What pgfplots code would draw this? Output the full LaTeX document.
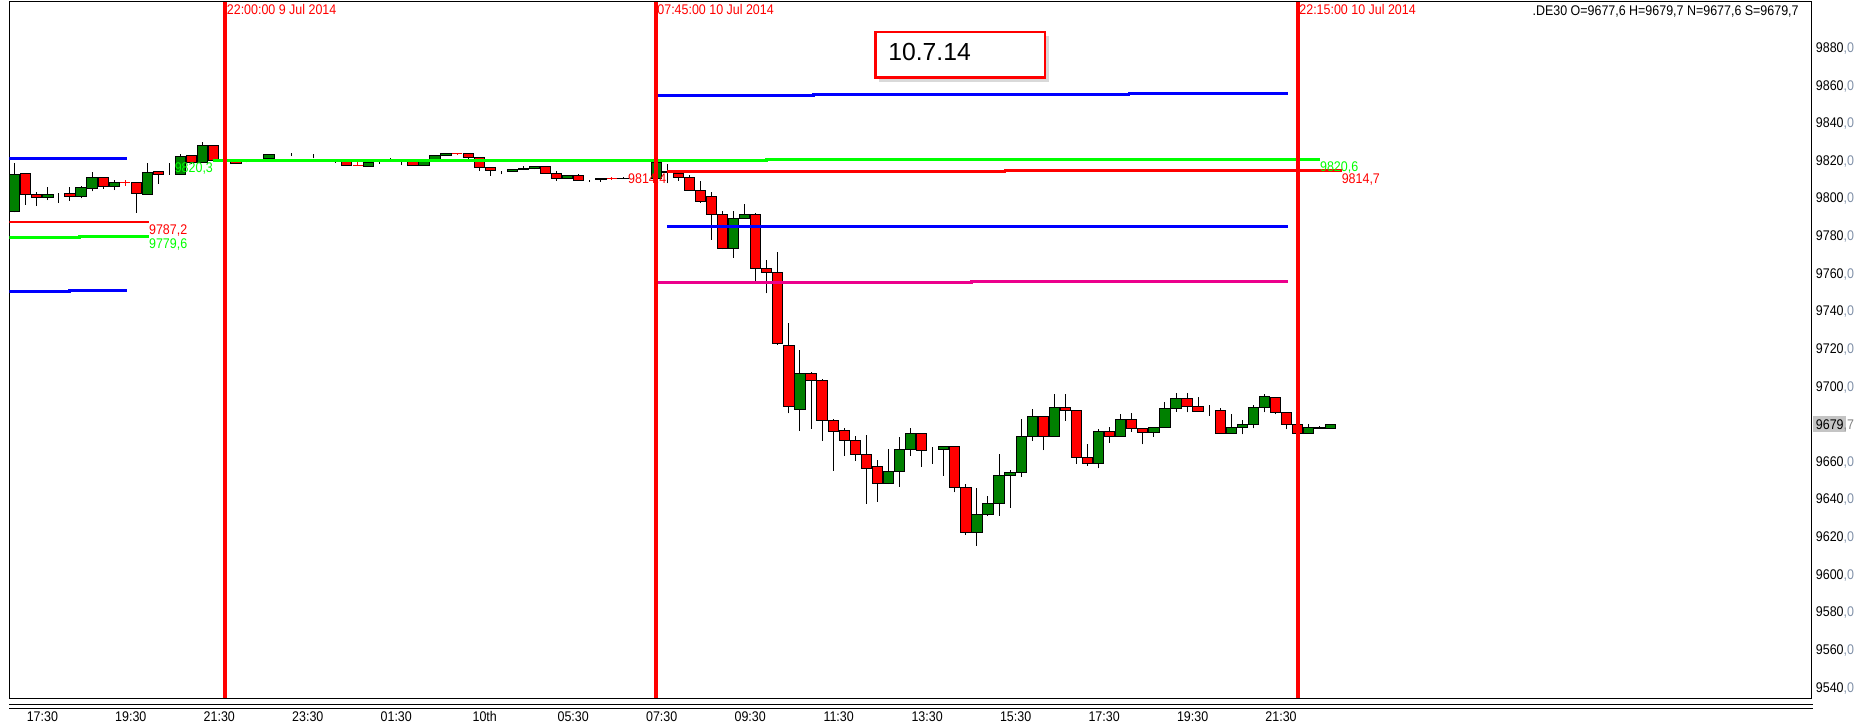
\documentclass[border=0pt]{standalone}
\usepackage{fontspec}
\setmainfont{Liberation Sans}
\newfontfamily\labfam[FakeStretch=0.89]{Liberation Sans}
\usepackage{pgfplots}
\pgfplotsset{compat=1.18}
\usepackage{pgfplotstable}
\usetikzlibrary{shadows}

\definecolor{cgreen}{RGB}{0,128,0}
\definecolor{lime}{RGB}{0,255,0}
\definecolor{tickgray}{RGB}{128,144,168}
\newcommand{\labfont}{\labfam\fontsize{7pt}{8.4pt}\selectfont}
\newcommand{\yl}[1]{#1\textcolor{tickgray}{,0}}

% 15-minute candles, i = 0 is 22:00 on 9 Jul; c: 1 up, 2 down, 0 doji
\pgfplotstableread{
i bot top L H c
-19 9792.9 9812.6 9792.4 9818.4 1
-18 9801.9 9813.1 9796.3 9813.1 2
-17 9800.5 9801.9 9795.7 9803.2 2
-16 9800.5 9801.9 9798.9 9805.8 1
-15 9802.3 9802.3 9797.5 9802.8 0
-14 9800.9 9802.3 9798.4 9805.8 2
-13 9800.9 9805.3 9799.8 9806.4 1
-12 9805.1 9811.0 9803.5 9813.8 1
-11 9806.2 9811.0 9805.0 9811.0 2
-10 9806.2 9808.3 9804.2 9809.6 1
-8 9802.5 9808.3 9792.2 9808.3 2
-7 9801.9 9813.6 9801.9 9818.4 1
-6 9812.6 9814.2 9807.6 9814.2 2
-5 9812.7 9812.7 9812.4 9818.4 0
-4 9812.7 9822.1 9812.7 9823.6 1
-3 9819.0 9822.7 9818.0 9822.7 2
-2 9819.0 9828.0 9819.0 9829.6 1
-1 9819.8 9828.0 9819.8 9828.0 2
0 9820.3 9820.3 9820.3 9820.3 0
1 9818.4 9819.7 9818.4 9819.7 2
2 9819.3 9819.3 9818.9 9819.7 0
3 9820.3 9820.3 9820.3 9820.3 0
4 9820.9 9823.2 9820.9 9823.5 1
5 9822.3 9822.3 9822.3 9822.3 0
6 9822.3 9822.3 9822.3 9823.7 0
7 9822.3 9822.3 9822.3 9822.3 0
8 9821.1 9821.1 9821.1 9823.4 0
9 9821.1 9821.1 9821.1 9821.1 0
10 9820.3 9820.3 9818.8 9820.3 0
11 9817.4 9820.0 9817.4 9820.0 2
13 9816.6 9819.0 9816.6 9819.0 1
14 9819.3 9819.3 9818.2 9819.3 0
15 9819.3 9819.3 9819.3 9821.1 0
16 9819.3 9819.3 9817.4 9819.3 0
17 9817.4 9819.7 9817.4 9819.7 2
18 9817.4 9819.7 9817.4 9819.7 1
19 9820.5 9822.7 9820.5 9822.7 1
20 9822.7 9823.7 9822.7 9823.7 1
22 9821.4 9823.7 9820.7 9823.7 2
23 9816.1 9821.6 9814.5 9821.6 2
24 9814.7 9816.3 9811.9 9816.3 2
25 9814.5 9814.5 9812.6 9814.5 0
26 9814.2 9815.2 9814.2 9815.2 1
27 9815.2 9815.9 9815.2 9817.0 1
28 9815.8 9816.8 9815.2 9816.8 1
29 9812.9 9816.8 9812.9 9816.8 2
30 9810.4 9812.9 9809.2 9814.2 2
31 9810.4 9812.0 9810.4 9812.0 1
32 9809.4 9812.0 9809.4 9812.7 2
33 9809.3 9809.3 9808.7 9809.3 0
34 9809.6 9810.1 9808.5 9810.5 1
36 9810.1 9810.6 9810.1 9811.3 1
37 9810.6 9810.6 9810.6 9810.6 0
38 9810.8 9810.8 9810.8 9810.8 0
39 9810.4 9819.0 9810.4 9820.2 1
40 9813.4 9814.3 9807.8 9818.0 2
41 9811.0 9813.1 9809.2 9813.1 2
42 9804.1 9811.0 9804.1 9812.2 2
43 9798.0 9804.1 9797.5 9809.0 2
44 9791.3 9800.9 9777.7 9803.0 2
45 9773.2 9791.3 9772.7 9793.1 2
46 9773.2 9789.2 9768.3 9793.1 1
47 9789.2 9791.3 9789.2 9796.8 1
48 9762.6 9791.3 9756.0 9791.8 2
49 9760.5 9762.6 9749.3 9767.0 2
50 9722.4 9760.5 9722.0 9771.3 2
51 9689.2 9721.7 9685.5 9733.4 2
52 9687.8 9706.8 9676.3 9719.2 1
53 9703.2 9706.8 9677.4 9707.7 2
54 9681.8 9703.2 9671.0 9704.0 2
55 9675.9 9681.8 9655.0 9682.5 2
56 9671.2 9676.5 9663.0 9677.5 2
57 9663.7 9671.2 9660.3 9673.4 2
58 9656.3 9663.7 9637.5 9674.0 2
59 9648.3 9657.3 9638.5 9660.7 2
60 9648.3 9654.7 9647.8 9666.5 1
61 9654.7 9666.4 9646.5 9672.7 1
62 9666.4 9674.9 9663.0 9677.5 1
63 9665.8 9674.9 9657.1 9675.0 2
64 9666.0 9666.0 9658.6 9667.8 0
65 9666.4 9667.6 9652.4 9668.3 1
66 9646.2 9667.6 9643.5 9667.6 2
67 9622.2 9646.2 9621.0 9647.8 2
68 9622.2 9631.8 9615.2 9645.6 1
69 9631.8 9637.7 9631.1 9641.4 1
70 9637.7 9652.5 9631.1 9663.9 1
71 9652.5 9654.1 9635.3 9655.4 1
72 9654.1 9673.3 9651.8 9682.3 1
73 9673.3 9683.9 9671.0 9687.6 1
74 9673.3 9683.9 9666.0 9684.0 2
75 9673.3 9688.7 9673.3 9695.8 1
76 9687.1 9688.7 9681.6 9695.8 2
77 9662.1 9687.1 9658.6 9687.1 2
78 9658.9 9662.1 9657.7 9669.2 2
79 9658.9 9675.9 9656.3 9677.0 1
80 9673.3 9675.9 9669.9 9678.1 2
81 9673.3 9682.3 9673.3 9685.0 1
82 9677.5 9682.3 9675.7 9685.5 2
83 9675.4 9677.5 9669.0 9677.8 2
84 9675.4 9678.0 9673.1 9678.3 1
85 9678.0 9688.1 9678.0 9691.3 1
86 9688.1 9693.5 9686.4 9696.1 1
87 9689.2 9693.5 9686.0 9696.1 2
88 9686.5 9689.2 9686.5 9694.0 2
89 9686.7 9686.7 9684.2 9689.9 0
90 9674.8 9687.1 9674.8 9688.1 2
91 9674.8 9678.0 9674.8 9685.3 1
92 9678.0 9679.6 9674.3 9681.9 1
93 9679.6 9688.7 9677.5 9689.9 1
94 9688.7 9694.5 9686.0 9695.6 1
95 9686.0 9694.0 9685.0 9694.0 2
96 9679.6 9686.0 9677.0 9686.0 2
97 9674.8 9679.6 9674.8 9680.0 2
98 9674.8 9678.0 9674.8 9679.8 1
99 9677.6 9678.2 9677.6 9678.7 2
100 9677.6 9679.7 9677.6 9679.7 1
}\candles

% red dojis
\pgfplotstableread{
i v L H
-9 9808.2 9806.4 9809.4
12 9817.4 9817.4 9819.0
21 9823.6 9822.9 9823.7
35 9810.1 9809.6 9811.0
}\crosses

\pgfplotsset{chart/.style={scale only axis, width=901pt, height=348.15pt,
    at={(4.75pt,13.85pt)}, anchor=south west,
    xmin=-19.47, xmax=143.46, ymin=9534.0, ymax=9904.19},
  level/.style={line width=1.45pt}}

\begin{document}
\begin{tikzpicture}
\useasboundingbox (0,0) rectangle (928.5pt,363pt);

% frame, ticks and wicks
\begin{axis}[chart,
  axis line style={black, line width=0.5pt},
  major tick length=0pt, tick style={draw=none},
  xtick={-16.5,-8.5,...,95.5},
  xticklabels={17:30,19:30,21:30,23:30,01:30,10th,05:30,07:30,09:30,11:30,13:30,15:30,17:30,19:30,21:30},
  xticklabel style={font=\labfont, anchor=base, inner sep=0pt, yshift=-11.6pt},
  yticklabel pos=right,
  ytick={9540,9560,9580,9600,9620,9640,9660,9700,9720,9740,9760,9780,9800,9820,9840,9860,9880},
  yticklabels={\yl{9540},\yl{9560},\yl{9580},\yl{9600},\yl{9620},\yl{9640},\yl{9660},\yl{9700},\yl{9720},\yl{9740},\yl{9760},\yl{9780},\yl{9800},\yl{9820},\yl{9840},\yl{9860},\yl{9880}},
  yticklabel style={font=\labfont, anchor=base west, inner sep=0pt, xshift=2pt, yshift=-2.5pt},
]
\addplot[draw=none, mark=none, error bars/.cd, y dir=plus, y explicit,
  error mark=none, error bar style={draw=black, line width=0.5pt}]
  table[x=i, y=L, y error expr=\thisrow{H}-\thisrow{L}] {\candles};
\end{axis}

% bodies
\begin{axis}[chart, hide axis, ybar stacked, bar width=0.93]
\addplot[draw=none, fill=none] table[x=i, y=bot] {\candles};
\addplot[draw=black, line width=0.5pt, fill=cgreen]
  table[x=i, y expr={(\thisrow{c}==1) ? (\thisrow{top}-\thisrow{bot}) : 0}] {\candles};
\addplot[draw=black, line width=0.5pt, fill=red]
  table[x=i, y expr={(\thisrow{c}==2) ? (\thisrow{top}-\thisrow{bot}) : 0}] {\candles};
\end{axis}

% levels and time markers
\begin{axis}[chart, hide axis]
\addplot[draw=none, mark=none, error bars/.cd, x dir=both, x fixed=0.45,
  error mark=none, error bar style={draw=red, line width=0.5pt}]
  table[x=i, y=v] {\crosses};
\addplot[draw=none, mark=none, error bars/.cd, y dir=plus, y explicit,
  error mark=none, error bar style={draw=red, line width=0.5pt}]
  table[x=i, y=L, y error expr=\thisrow{H}-\thisrow{L}] {\crosses};

\addplot[blue, level] coordinates {(-19.47,9821.1)(-8.82,9821.1)};
\addplot[blue, level] coordinates {(-19.47,9750.5)(-14.07,9750.5)(-14.07,9751.0)(-8.82,9751.0)};
\addplot[red, level] coordinates {(-19.47,9787.2)(-6.88,9787.2)};
\addplot[lime, level] coordinates {(-19.47,9779.0)(-13.14,9779.0)(-13.14,9779.6)(-6.88,9779.6)};
\addplot[lime, level] coordinates {(-1.03,9820.1)(48.98,9820.1)(48.98,9820.6)(99.0,9820.6)};
\addplot[red, level] coordinates {(39.98,9814.2)(70.54,9814.2)(70.54,9814.7)(101.0,9814.7)};
\addplot[blue, level] coordinates {(39.17,9854.6)(53.22,9854.6)(53.22,9855.1)(81.75,9855.1)(81.75,9855.7)(96.09,9855.7)};
\addplot[blue, level] coordinates {(39.98,9784.9)(96.09,9784.9)};
\addplot[magenta, level] coordinates {(39.17,9755.2)(67.55,9755.2)(67.55,9755.7)(96.09,9755.7)};

\addplot[red, line width=2.15pt] coordinates {(0,9534.0)(0,9904.19)};
\addplot[red, line width=2.15pt] coordinates {(39,9534.0)(39,9904.19)};
\addplot[red, line width=2.15pt] coordinates {(97,9534.0)(97,9904.19)};
\end{axis}

% annotations in pixel units (y down from the top edge)
\begin{scope}[x=0.5pt, y=-0.5pt, yshift=363pt]
\draw[line width=0.5pt] (9,705) -- (1813,705);
\draw[line width=0.5pt] (9,708.3) -- (1813,708.3);

\node[anchor=base west, inner sep=0pt, font=\labfont, text=red] at (226.5,15) {22:00:00 9 Jul 2014};
\node[anchor=base west, inner sep=0pt, font=\labfont, text=red] at (657,15) {07:45:00 10 Jul 2014};
\node[anchor=base west, inner sep=0pt, font=\labfont, text=red] at (1299,15) {22:15:00 10 Jul 2014};
\node[anchor=base east, inner sep=0pt, font=\labfont] at (1799,15.5) {.DE30 O=9677,6 H=9679,7 N=9677,6 S=9679,7};

\node[anchor=base east, inner sep=0pt, font=\labfont, text=lime] at (213.3,172.5) {9820,3};
\node[anchor=base west, inner sep=0pt, font=\labfont, text=red] at (148.7,234.5) {9787,2};
\node[anchor=base west, inner sep=0pt, font=\labfont, text=lime] at (148.7,249) {9779,6};
\node[anchor=base east, inner sep=0pt, font=\labfont, text=red] at (666.7,184) {9814,4};
\node[anchor=base west, inner sep=0pt, font=\labfont, text=lime] at (1319.7,171.5) {9820,6};
\node[anchor=base west, inner sep=0pt, font=\labfont, text=red] at (1341.4,183.3) {9814,7};

\fill[fill={rgb,255:red,196;green,196;blue,196}] (1813,416.5) rectangle (1846,432);
\node[anchor=base west, inner sep=0pt, font=\labfont] at (1815.5,429.3) {9679\textcolor{gray}{,7}};

\path[draw=red, line width=1.4pt, fill=white,
  drop shadow={shadow xshift=2pt, shadow yshift=-2pt, opacity=0.3}]
  (875.1,32.1) rectangle (1045,77.9);
\node[anchor=base west, inner sep=0pt, font=\fontsize{12.35pt}{14pt}\selectfont] at (888,61) {10.7.14};
\end{scope}
\end{tikzpicture}
\end{document}
